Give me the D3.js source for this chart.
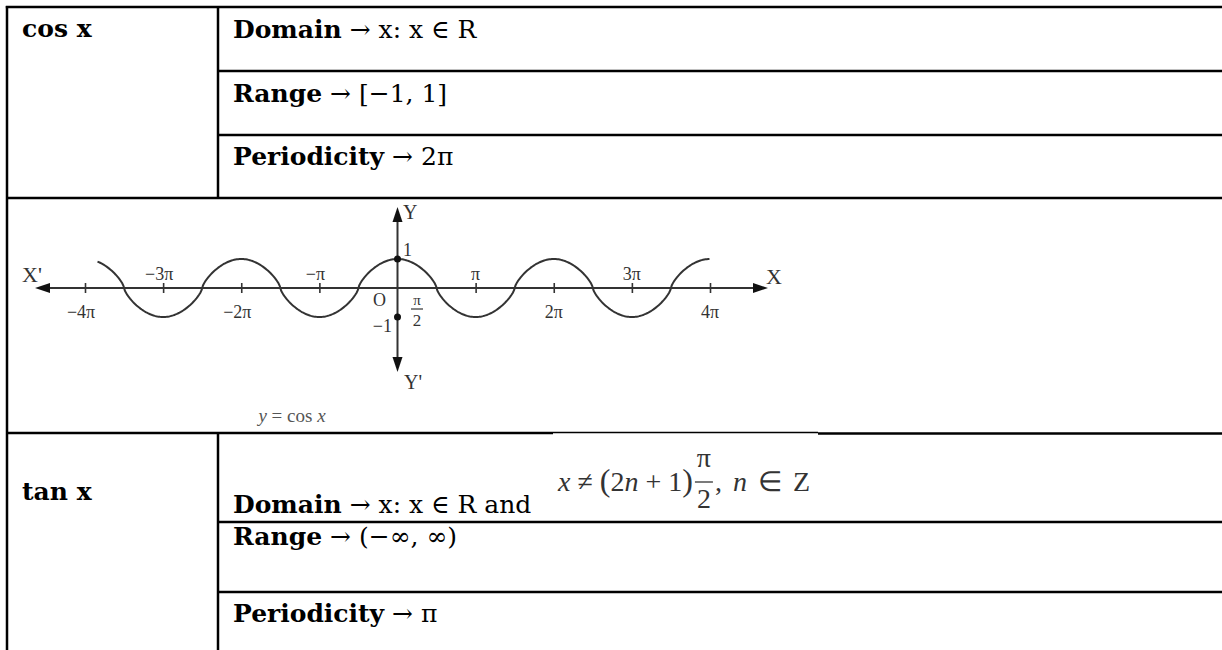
<!DOCTYPE html>
<html>
<head>
<meta charset="utf-8">
<script src="https://cdn.jsdelivr.net/npm/d3@7"></script>
<style>
    body { margin: 0; background: #fff; }
    svg { display: block; }
</style>
</head>
<body>
<svg id="chart" width="1222" height="650"></svg>
<script>
const PI = Math.PI;

// table contents
const rowTitles = ["cos x", "tan x"];
const cosProps = [["Domain", " → x: x ∈ R"], ["Range", " → [−1, 1]"], ["Periodicity", " → 2π"]];
const tanProps = [["Domain", " → x: x ∈ R and"], ["Range", " → (−∞, ∞)"], ["Periodicity", " → π"]];

// graph of y = cos x, ticks in multiples of π
const tickMultiples = [-4, -3, -2, -1, 1, 2, 3, 4];
const tickLabels = ["−4π", "−3π", "−2π", "−π", "π", "2π", "3π", "4π"];
const curveFrom = -3.84, curveTo = 4;   // where the drawn curve starts / ends (× π)
const markedY = [1, -1];                // dots on the Y axis

const svg = d3.select("#chart");
const ink = "#000";
const grey = "#333";

// ---- table lines ----
const lines = svg.append("g").attr("stroke", ink).attr("stroke-width", 2.5);
const hLine = (y, x1, x2, w) => lines.append("line")
    .attr("x1", x1).attr("x2", x2).attr("y1", y).attr("y2", y)
    .attr("stroke-width", w || 2.5);
const vLine = (x, y1, y2) => lines.append("line")
    .attr("x1", x).attr("x2", x).attr("y1", y1).attr("y2", y2);

const left = 7, divider = 218, right = 1230;
hLine(7, left - 1.2, right);
hLine(71, divider, right);
hLine(135, divider, right);
hLine(198, left, right);
hLine(433, left, 553);
hLine(432.5, 553, 818, 1.3);
hLine(433.5, 818, right);
hLine(522, divider, right);
hLine(592, divider, right);
vLine(left, 6, 660);
vLine(divider, 6, 198);
vLine(divider, 433, 660);

// ---- table text ----
const boldFont = "'DejaVu Serif', serif";
function propText(y, prop) {
    const t = svg.append("text").attr("x", 233).attr("y", y)
        .attr("font-family", boldFont).attr("font-size", 25).attr("fill", ink);
    t.append("tspan").attr("font-weight", "bold").text(prop[0]);
    t.append("tspan").text(prop[1]);
}
svg.append("text").attr("x", 22).attr("y", 37).attr("font-family", boldFont)
    .attr("font-weight", "bold").attr("font-size", 25).text(rowTitles[0]);
[38, 102, 165].forEach((y, i) => propText(y, cosProps[i]));

svg.append("text").attr("x", 22).attr("y", 500).attr("font-family", boldFont)
    .attr("font-weight", "bold").attr("font-size", 25).text(rowTitles[1]);
[513, 545, 622].forEach((y, i) => propText(y, tanProps[i]));

// formula x ≠ (2n+1) π/2, n ∈ Z
const mathFont = "'Liberation Serif', 'Times New Roman', serif";
const f = svg.append("g").attr("font-family", mathFont).attr("fill", grey).attr("font-size", 28);
const f1 = f.append("text").attr("x", 558).attr("y", 491);
f1.append("tspan").attr("font-style", "italic").text("x");
f1.append("tspan").text(" ≠ ");
f1.append("tspan").attr("font-size", 32).text("(");
f1.append("tspan").text("2");
f1.append("tspan").attr("font-style", "italic").text("n");
f1.append("tspan").text(" + 1");
f1.append("tspan").attr("font-size", 32).text(")");
const fracX = 558 + f1.node().getComputedTextLength() + 11;
f.append("text").attr("x", fracX).attr("y", 467).attr("text-anchor", "middle").text("π");
f.append("line").attr("x1", fracX - 9).attr("x2", fracX + 9).attr("y1", 482).attr("y2", 482)
    .attr("stroke", grey).attr("stroke-width", 1.3);
f.append("text").attr("x", fracX).attr("y", 508).attr("text-anchor", "middle").text("2");
const f2 = f.append("text").attr("x", fracX + 11).attr("y", 491).attr("letter-spacing", 2);
f2.append("tspan").text(", ");
f2.append("tspan").attr("font-style", "italic").text("n");
f2.append("tspan").text(" ∈ Z");

// ---- cos graph ----
const x = d3.scaleLinear().domain([-4 * PI, 4 * PI]).range([85, 710]);
const y = d3.scaleLinear().domain([-1, 1]).range([317, 259]);
const x0 = x(0), y0 = y(0);
const g = svg.append("g").attr("font-family", mathFont).attr("fill", grey);

// axes with arrow heads
g.append("line").attr("x1", 45).attr("x2", 758).attr("y1", y0).attr("y2", y0)
    .attr("stroke", grey).attr("stroke-width", 2);
g.append("line").attr("x1", x0).attr("x2", x0).attr("y1", 218).attr("y2", 362)
    .attr("stroke", grey).attr("stroke-width", 2);
const arrow = (pts) => g.append("path").attr("d", d3.line()(pts) + "Z").attr("fill", "#111");
arrow([[35, y0], [50, y0 - 5], [50, y0 + 5]]);
arrow([[768, y0], [753, y0 - 5], [753, y0 + 5]]);
arrow([[x0, 207], [x0 - 5, 222], [x0 + 5, 222]]);
arrow([[x0, 372], [x0 - 5, 357], [x0 + 5, 357]]);

// tick marks from d3 axis
const axis = d3.axisBottom(x)
    .tickValues(tickMultiples.map(m => m * PI))
    .tickSize(10).tickFormat("");
const ag = g.append("g").attr("transform", `translate(0,${y0 - 5})`).call(axis);
ag.select(".domain").remove();
ag.selectAll(".tick line").attr("stroke", grey).attr("stroke-width", 1.6);

// tick labels: odd multiples above, even below
g.selectAll(".tlab").data(tickMultiples).join("text")
    .attr("class", "tlab")
    .attr("x", d => x(d * PI) + (d < 0 ? -4 : 0))
    .attr("y", d => Math.abs(d) % 2 === 1 ? y0 - 8 : y0 + 30)
    .attr("text-anchor", "middle").attr("font-size", 18)
    .text((d, i) => tickLabels[i]);

// curve
const samples = d3.range(curveFrom * PI, curveTo * PI + 0.001, PI / 60);
const shape = c => Math.sign(c) * Math.pow(Math.abs(c), 0.7);
g.append("path")
    .attr("d", d3.line().x(d => x(d)).y(d => y(shape(Math.cos(d))))(samples))
    .attr("fill", "none").attr("stroke", grey).attr("stroke-width", 2);

// dots at 1 and -1
g.selectAll(".dot").data(markedY).join("circle")
    .attr("cx", x0).attr("cy", d => y(d)).attr("r", 3.5).attr("fill", "#111");

// axis labels
g.append("text").attr("x", 22).attr("y", 282).attr("font-size", 22).text("X'");
g.append("text").attr("x", 766).attr("y", 284).attr("font-size", 22).text("X");
g.append("text").attr("x", 403).attr("y", 219).attr("font-size", 20).text("Y");
g.append("text").attr("x", 404).attr("y", 389).attr("font-size", 20).text("Y'");
g.append("text").attr("x", 403).attr("y", 256).attr("font-size", 18).text("1");
g.append("text").attr("x", 373).attr("y", 306).attr("font-size", 18).text("O");
g.append("text").attr("x", 392).attr("y", 332).attr("font-size", 18).attr("text-anchor", "end").text("−1");
g.append("text").attr("x", 417).attr("y", 305).attr("font-size", 15).attr("text-anchor", "middle").text("π");
g.append("line").attr("x1", 411).attr("x2", 423).attr("y1", 309).attr("y2", 309)
    .attr("stroke", grey).attr("stroke-width", 1.2);
g.append("text").attr("x", 417).attr("y", 326).attr("font-size", 17).attr("text-anchor", "middle").text("2");

// caption
const cap = g.append("text").attr("x", 292).attr("y", 422).attr("text-anchor", "middle")
    .attr("font-size", 19).attr("fill", "#555");
cap.append("tspan").attr("font-style", "italic").text("y");
cap.append("tspan").text(" = cos ");
cap.append("tspan").attr("font-style", "italic").text("x");
</script>
</body>
</html>
